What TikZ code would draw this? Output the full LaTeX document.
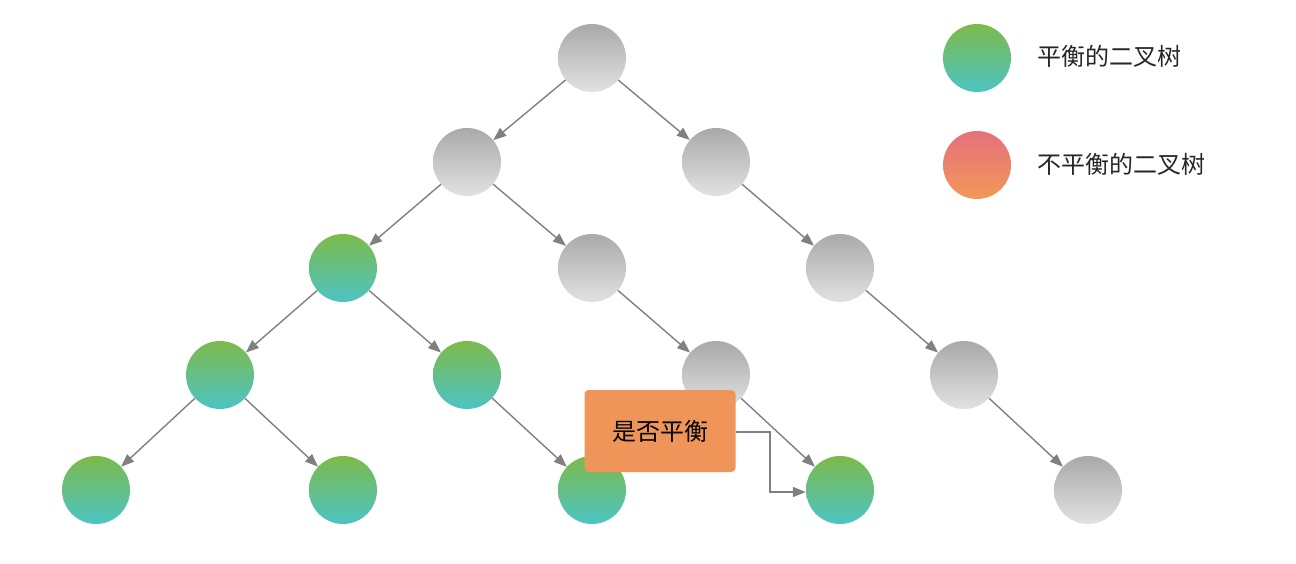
\documentclass[tikz,border=0pt]{standalone}
\usepackage{fontspec}
\newfontfamily\cjk{Noto Sans CJK SC}
\usetikzlibrary{arrows.meta}
\definecolor{gA}{HTML}{7DBA4A}\definecolor{gB}{HTML}{4CC4C4}
\definecolor{hA}{HTML}{A9A9A9}\definecolor{hB}{HTML}{E2E2E2}
\definecolor{rA}{HTML}{E6707C}\definecolor{rB}{HTML}{F29858}
\definecolor{bx}{HTML}{F0955A}\definecolor{ln}{HTML}{808080}
\tikzset{
 nd/.style={circle,minimum size=68pt,inner sep=0pt},
 gn/.style={nd,top color=gA,bottom color=gB},
 gy/.style={nd,top color=hA,bottom color=hB},
 rd/.style={nd,top color=rA,bottom color=rB},
 ed/.style={draw=ln,line width=1.4pt,-{Triangle[length=13pt,width=10pt]}},
 lab/.style={font=\cjk\fontsize{24pt}{28pt}\selectfont,text=black!85,anchor=west}
}
\begin{document}
\begin{tikzpicture}[x=1pt,y=-1pt]
\useasboundingbox (0,0) rectangle (1296,564);
\node[gy] (r) at (592,58) {};
\node[gy] (a) at (467,162) {};
\node[gy] (b) at (716,162) {};
\node[gn] (c) at (343,268) {};
\node[gy] (d) at (592,268) {};
\node[gy] (e) at (840,268) {};
\node[gn] (f) at (220,375) {};
\node[gn] (g) at (467,375) {};
\node[gy] (h) at (716,375) {};
\node[gy] (i) at (964,375) {};
\node[gn] (j) at (96,490) {};
\node[gn] (k) at (343,490) {};
\node[gn] (l) at (592,490) {};
\node[gn] (m) at (840,490) {};
\node[gy] (n) at (1088,490) {};
\foreach \u/\v in {r/a,r/b,a/c,a/d,b/e,c/f,c/g,d/h,e/i,f/j,f/k,g/l,h/m,i/n}
  \draw[ed] (\u) -- (\v);
\node[draw=none,fill=bx,rounded corners=4pt,minimum width=151pt,minimum height=82pt,font=\cjk\fontsize{24pt}{28pt}\selectfont] (q) at (660,431) {是否平衡};
\coordinate (q1) at (770,432);
\coordinate (q2) at (770,492);
\draw[ed] (q.east |- q1) -- (q1) -- (q2) -- (m.west |- q2);
\node[gn] (lg) at (977,58) {};
\node[rd] (lr) at (977,165) {};
\node[lab] (tg) at (1034,56) {平衡的二叉树};
\node[lab] (tr) at (1034,164) {不平衡的二叉树};
\end{tikzpicture}
\end{document}
